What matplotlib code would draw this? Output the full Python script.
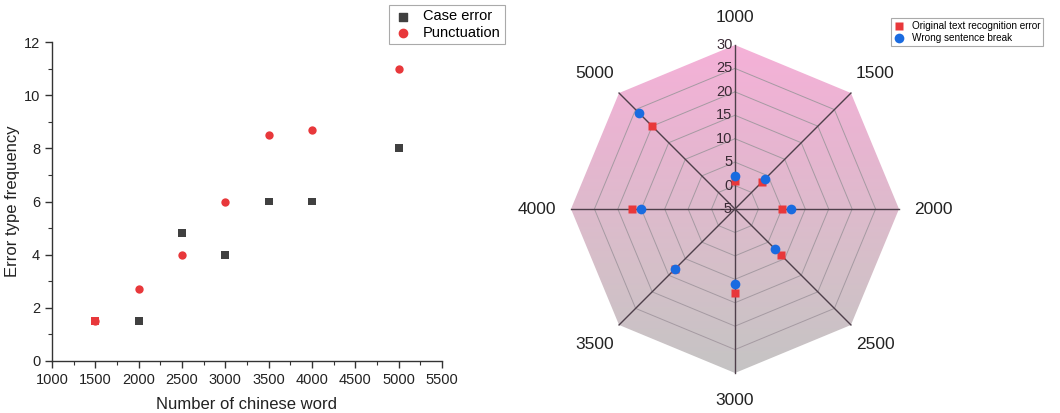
import matplotlib.pyplot as plt
import numpy as np
from matplotlib.patches import Polygon
from matplotlib.colors import LinearSegmentedColormap

plt.rcParams['font.family'] = ['Liberation Sans', 'DejaVu Sans']

# scatter panel data
words = [1500, 2000, 2500, 3000, 3500, 4000, 5000]
case_error = [1.5, 1.5, 4.8, 4, 6, 6, 8]
punctuation = [1.5, 2.7, 4, 6, 8.5, 8.7, 11]

# radar panel data (clockwise from the top)
radar_labels = ['1000', '1500', '2000', '2500', '3000', '3500', '4000', '5000']
recognition_error = [1, 3, 5, 9, 13, 13, 17, 20]
sentence_break = [2, 4, 7, 7, 11, 13, 15, 24]
ring_values = [-5, 0, 5, 10, 15, 20, 25, 30]

RED = '#e8383b'
BLUE = '#1a6be0'
DARK = '#404040'

fig = plt.figure(figsize=(10.6, 4.13), dpi=100)

# ---------------- left: scatter ----------------
ax = fig.add_axes([52 / 1060, 1 - 361 / 413, 390 / 1060, 319 / 413])
ax.scatter(words, punctuation, marker='o', s=36, color=RED, zorder=3, linewidths=0)
# the first case-error square sits on top of the punctuation point and is red
case_colors = [RED] + [DARK] * (len(words) - 1)
ax.scatter(words, case_error, marker='s', s=32, c=case_colors, zorder=4, linewidths=0)
# legend handles
h_case = ax.scatter([], [], marker='s', s=30, color=DARK, label='Case error')
h_punc = ax.scatter([], [], marker='o', s=36, color=RED, label='Punctuation')

ax.set_xlim(1000, 5500)
ax.set_ylim(0, 12)
ax.set_xticks(np.arange(1000, 5501, 500))
ax.set_xticks(np.arange(1000, 5501, 250), minor=True)
ax.set_yticks(np.arange(0, 13, 2))
ax.set_yticks(np.arange(0, 13, 1), minor=True)
for s in ['top', 'right']:
    ax.spines[s].set_visible(False)
for s in ['left', 'bottom']:
    ax.spines[s].set_color('#333333')
    ax.spines[s].set_linewidth(1.0)
ax.tick_params(which='major', direction='out', length=5, width=1, colors='#333333',
               labelsize=10.5, labelcolor='#222222')
ax.tick_params(which='minor', direction='out', length=3, width=0.8, colors='#333333')
ax.set_xlabel('Number of chinese word', fontsize=12, color='#222222', labelpad=7)
ax.set_ylabel('Error type frequency', fontsize=12, color='#222222', labelpad=3)

leg = fig.legend(handles=[h_case, h_punc], loc='upper right',
                 bbox_to_anchor=(505 / 1060, 1 - 5 / 413), borderaxespad=0,
                 fontsize=10.5, fancybox=False, edgecolor='#aaaaaa', framealpha=1,
                 handletextpad=0.7, borderpad=0.3, labelspacing=0.15,
                 handlelength=1.3)
leg.get_frame().set_linewidth(0.8)

# ---------------- right: radar ----------------
rax = fig.add_axes([530 / 1060, 1 - 414 / 413, 410 / 1060, 410 / 413])
rax.set_xlim(-1.25, 1.25)
rax.set_ylim(-1.25, 1.25)
rax.set_aspect('equal')
rax.axis('off')

n = len(radar_labels)
angles = np.pi / 2 - np.arange(n) * 2 * np.pi / n
vmin, vmax = ring_values[0], ring_values[-1]


def to_xy(vals):
    r = (np.asarray(vals, dtype=float) - vmin) / (vmax - vmin)
    return r * np.cos(angles), r * np.sin(angles)


# gradient fill clipped to the outer octagon
outer = np.column_stack([np.cos(angles), np.sin(angles)])
octagon = Polygon(outer, closed=True, facecolor='none', edgecolor='none')
rax.add_patch(octagon)
cmap = LinearSegmentedColormap.from_list(
    'pinkgrey', ['#c5c4c4', '#d6bfc9', '#e6b6d0', '#f5b1d8'])
grad = np.linspace(0, 1, 256).reshape(-1, 1)
img = rax.imshow(grad, cmap=cmap, origin='lower', extent=[-1, 1, -1, 1],
                 aspect='auto', zorder=0)
img.set_clip_path(octagon)

# rings
for v in ring_values[1:-1]:
    x, y = to_xy([v] * n)
    rax.plot(np.append(x, x[0]), np.append(y, y[0]), color='#a59aa2', lw=0.7, zorder=1)

# spokes
for a in angles:
    rax.plot([0, np.cos(a)], [0, np.sin(a)], color='#4e3f4a', lw=1.0, zorder=2)

# ring value labels along the top spoke
for v in ring_values:
    r = (v - vmin) / (vmax - vmin)
    rax.text(-0.015, r, str(v), ha='right', va='center', fontsize=10.5,
             color='#3a2a35', zorder=3)

# category labels
for a, lab in zip(angles, radar_labels):
    rax.text(1.21 * np.cos(a), 1.165 * np.sin(a), lab, ha='center', va='center',
             fontsize=12.5, color='#222222')

xr, yr = to_xy(recognition_error)
rax.plot(xr, yr, 's', color=RED, ms=6, mec='none', zorder=4,
         label='Original text recognition error')
xb, yb = to_xy(sentence_break)
rax.plot(xb, yb, 'o', color=BLUE, ms=7, mec='none', zorder=5,
         label='Wrong sentence break')

leg2 = fig.legend(*rax.get_legend_handles_labels(), loc='upper right',
                  bbox_to_anchor=(1043 / 1060, 1 - 18 / 413), borderaxespad=0,
                  fontsize=7.2, fancybox=False, edgecolor='#aaaaaa', framealpha=1,
                  handletextpad=0.8, borderpad=0.3, labelspacing=0.2,
                  handlelength=1.0)
leg2.get_frame().set_linewidth(0.8)

fig.savefig('out.png', dpi=100)
